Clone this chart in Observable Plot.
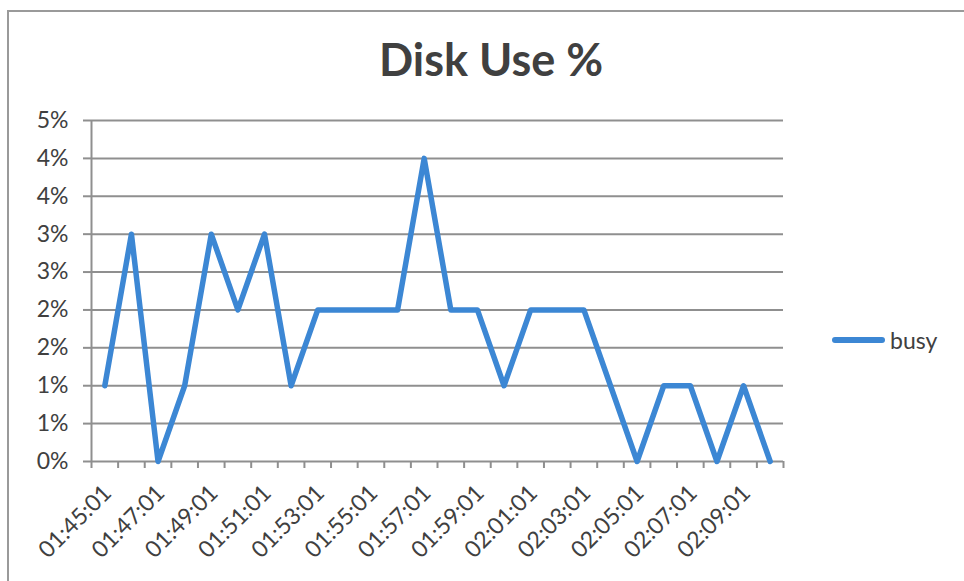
<!DOCTYPE html>
<html>
<head>
<meta charset="utf-8">
<script src="https://cdn.jsdelivr.net/npm/d3@7"></script>
<script src="https://cdn.jsdelivr.net/npm/@observablehq/plot@0.6"></script>
<style>
  html, body { margin: 0; padding: 0; background: #ffffff; }
  #wrap { position: relative; width: 964px; height: 581px; overflow: hidden; font-family: Lato, "Open Sans", sans-serif; color: #404040; background: #fff; }
  #frame { position: absolute; left: 7px; top: 10px; width: 1000px; height: 620px; border: 2px solid #9a9a9a; box-sizing: border-box; pointer-events: none; }
  #title { position: absolute; left: 0; width: 982px; top: 37px; text-align: center; font-weight: 700; font-size: 45px; line-height: 45px; color: #404040; }
  #legend { position: absolute; left: 832px; top: 326px; display: flex; align-items: center; font-size: 23px; color: #404040; }
  #legend .sw { width: 53px; height: 5.5px; border-radius: 3px; background: #3c87d4; margin-right: 5px; }
  #chart { position: absolute; left: 0; top: 0; }
  #chart g[aria-label^="y-axis"] line, #chart g[aria-label^="y-axis"] path,
  #chart g[aria-label^="x-axis"] line, #chart g[aria-label^="x-axis"] path { stroke: #8f8f8f; stroke-width: 2; }
  #chart g[aria-label^="y-axis"] .domain, #chart g[aria-label^="x-axis"] .domain { display: none; }
</style>
</head>
<body>
<div id="wrap">
  <div id="chart"></div>
  <div id="frame"></div>
  <div id="title">Disk Use %</div>
  <div id="legend"><span class="sw"></span><span id="legendLabel"></span></div>
</div>
<script>
// ---- data ----
const times = [
  "01:45:01","01:46:01","01:47:01","01:48:01","01:49:01","01:50:01","01:51:01",
  "01:52:01","01:53:01","01:54:01","01:55:01","01:56:01","01:57:01","01:58:01",
  "01:59:01","02:00:01","02:01:01","02:02:01","02:03:01","02:04:01","02:05:01",
  "02:06:01","02:07:01","02:08:01","02:09:01","02:10:01"
];
const busy = [
  0.01, 0.03, 0.00, 0.01, 0.03, 0.02, 0.03,
  0.01, 0.02, 0.02, 0.02, 0.02, 0.04, 0.02,
  0.02, 0.01, 0.02, 0.02, 0.02, 0.01, 0.00,
  0.01, 0.01, 0.00, 0.01, 0.00
];
const seriesName = "busy";
const yTicks = [0, 0.005, 0.01, 0.015, 0.02, 0.025, 0.03, 0.035, 0.04, 0.045];
const xTickLabels = ["01:45:01","01:47:01","01:49:01","01:51:01","01:53:01","01:55:01","01:57:01",
                     "01:59:01","02:01:01","02:03:01","02:05:01","02:07:01","02:09:01"];

// Excel-style whole-percent rounding (0.5% -> "1%")
const fmtPct = v => Math.round(+(v * 100).toFixed(6) + 1e-9) + "%";

const rows = times.map((t, i) => ({ i, t, v: busy[i] }));
const labelRows = rows.filter(d => xTickLabels.includes(d.t));
const boundaries = d3.range(times.length + 1);

const chart = Plot.plot({
  width: 964,
  height: 581,
  marginLeft: 91,
  marginRight: 181,
  marginTop: 120,
  marginBottom: 120,
  style: { background: "transparent", color: "#404040", fontFamily: "Lato, 'Open Sans', sans-serif", fontSize: "23px", overflow: "visible" },
  x: { domain: [0, times.length], ticks: boundaries, tickFormat: () => "", tickSize: 7, label: null },
  y: { domain: [0, 0.045], ticks: yTicks, tickFormat: fmtPct, tickSize: 8, tickPadding: 15, label: null },
  marks: [
    Plot.ruleY(yTicks, { stroke: "#8f8f8f", strokeWidth: 2 }),
    Plot.ruleX([0], { stroke: "#8f8f8f", strokeWidth: 2 }),
    Plot.line(rows, { x: d => d.i + 0.5, y: "v", stroke: "#3c87d4", strokeWidth: 5.5, strokeLinejoin: "round", strokeLinecap: "round" }),
    Plot.text(labelRows, { x: d => d.i + 0.5, text: "t", frameAnchor: "bottom", dx: 8, dy: 33, rotate: -45, textAnchor: "end", fill: "#404040" })
  ]
});
document.getElementById("chart").appendChild(chart);
document.getElementById("legendLabel").textContent = seriesName;
</script>
</body>
</html>
